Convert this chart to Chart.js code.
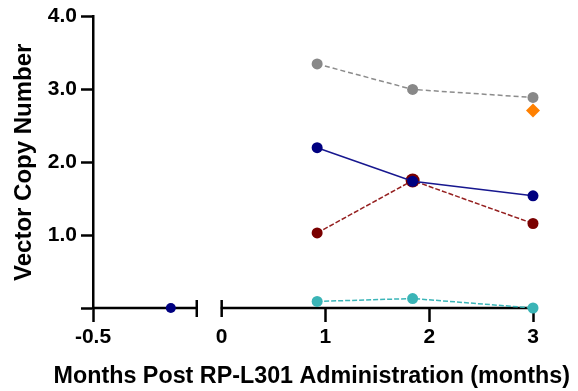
<!DOCTYPE html>
<html>
<head>
<meta charset="utf-8">
<script src="https://cdn.jsdelivr.net/npm/chart.js@4"></script>
<style>
  html, body { margin: 0; padding: 0; background: #fff; }
</style>
</head>
<body>
<canvas id="vcn_chart" width="578" height="391"></canvas>
<script>
// months after dosing
const months = [0.92, 1.84, 3];
const baselineMonth = [-0.125];

const greySeries = [3.35, 3.0, 2.89];
const navySeries = [2.2, 1.74, 1.54];
const redSeries = [1.03, 1.75, 1.16];
const cyanSeries = [0.09, 0.13, 0.0];
const navyBaseline = [0.0];
const orangeMonth = [3];
const orangeSeries = [2.71];

const xTickValues = [-0.5, 0, 1, 2, 3];
const xTickLabels = ["-0.5", "0", "1", "2", "3"];
const yTickLabels = ["", "1.0", "2.0", "3.0", "4.0"];

// broken x axis: the pre-dose part (-0.5..0) is stretched and moved left of a gap
const GAP = 0.24;
const LEFT_STRETCH = 2;
const toAxis = (m, left) => (left ? m * LEFT_STRETCH - GAP : m);

const pts = (xs, ys, left) => xs.map((m, i) => ({ x: toAxis(m, left), y: ys[i] }));

const FONT = "'Liberation Sans', Arial, Helvetica, sans-serif";
const TITLE_SIZE = 23.3;

const brokenAxis = {
    id: "brokenAxis",
    beforeDatasetsDraw(chart) {
        const { ctx, scales } = chart;
        const x = scales.x;
        const y0 = scales.y.getPixelForValue(0);
        const segs = [
            [toAxis(-0.5, true), toAxis(0, true)],
            [0, 3],
        ];
        ctx.save();
        ctx.strokeStyle = "#000";
        ctx.lineWidth = 2.5;
        segs.forEach(([a, b]) => {
            ctx.beginPath();
            ctx.moveTo(x.getPixelForValue(a) - 1, y0);
            ctx.lineTo(x.getPixelForValue(b) + 1, y0);
            ctx.stroke();
        });
        [toAxis(0, true), 0].forEach((v) => {
            const px = x.getPixelForValue(v);
            ctx.beginPath();
            ctx.moveTo(px, y0 - 8);
            ctx.lineTo(px, y0 + 9);
            ctx.stroke();
        });
        ctx.restore();
    },
};

const ctx = document.querySelector("#vcn_chart");
new Chart(ctx, {
    type: "scatter",
    data: {
        datasets: [
            {
                data: pts(months, navySeries),
                showLine: true,
                borderColor: "#17178f",
                backgroundColor: "#000080",
                borderWidth: 1.5,
                pointRadius: 5.5,
                pointBorderWidth: 0,
            },
            {
                data: pts(baselineMonth, navyBaseline, true),
                backgroundColor: "#000080",
                borderColor: "#000080",
                pointRadius: 5,
                pointBorderWidth: 0,
            },
            {
                data: pts(months, redSeries),
                showLine: true,
                borderColor: "#952020",
                backgroundColor: "#7a0000",
                borderWidth: 1.5,
                borderDash: [5, 2],
                pointRadius: [5.5, 7, 5.5],
                pointBorderWidth: 0,
            },
            {
                data: pts(orangeMonth, orangeSeries),
                backgroundColor: "#ff8000",
                borderColor: "#ff8000",
                pointStyle: "rectRot",
                pointRadius: 7,
                pointBorderWidth: 0,
            },
            {
                data: pts(months, greySeries),
                showLine: true,
                borderColor: "#8c8c8c",
                backgroundColor: "#888888",
                borderWidth: 1.5,
                borderDash: [5, 3],
                pointRadius: 5.5,
                pointBorderWidth: 0,
            },
            {
                data: pts(months, cyanSeries),
                showLine: true,
                borderColor: "#3bb5b8",
                backgroundColor: "#3ab4b6",
                borderWidth: 1.5,
                borderDash: [5, 2],
                pointRadius: 5.5,
                pointBorderWidth: 0,
            },
        ],
    },
    options: {
        responsive: false,
        animation: false,
        devicePixelRatio: 1,
        clip: false,
        layout: { padding: { top: 15, right: 8, left: 0, bottom: 0 } },
        plugins: {
            legend: { display: false },
            tooltip: { enabled: false },
            title: {
                display: true,
                position: "bottom",
                align: "end",
                text: "Months Post RP-L301 Administration (months)",
                color: "#000",
                padding: { top: 2, bottom: 0 },
                font: { family: FONT, size: TITLE_SIZE, weight: "bold", lineHeight: 1.2 },
            },
        },
        scales: {
            x: {
                type: "linear",
                min: toAxis(-0.5, true),
                max: 3,
                afterFit: (s) => { s.height = 391 - 308 - (TITLE_SIZE * 1.2 + 2); },
                afterBuildTicks: (s) => {
                    s.ticks = xTickValues.map((m) => ({ value: toAxis(m, m < 0) }));
                },
                border: { display: false },
                grid: {
                    drawOnChartArea: false,
                    tickLength: 14,
                    tickWidth: 2.5,
                    tickColor: (c) => (c.tick && c.tick.value === 0 ? "rgba(0,0,0,0)" : "#000"),
                },
                ticks: {
                    color: "#000",
                    padding: 3,
                    maxRotation: 0,
                    font: { family: FONT, size: 21, weight: "bold" },
                    callback: (v, i) => xTickLabels[i],
                },
            },
            y: {
                min: 0,
                max: 4,
                afterFit: (s) => { s.width = 93; },
                border: { display: true, color: "#000", width: 2.5 },
                grid: {
                    drawOnChartArea: false,
                    tickLength: 12,
                    tickWidth: 2.5,
                    tickColor: "#000",
                },
                ticks: {
                    stepSize: 1,
                    color: "#000",
                    padding: 4,
                    font: { family: FONT, size: 21, weight: "bold" },
                    callback: (v) => yTickLabels[Math.round(v)],
                },
                title: {
                    display: true,
                    text: "Vector Copy Number",
                    color: "#000",
                    padding: { top: 10, bottom: 4 },
                    font: { family: FONT, size: 24, weight: "bold" },
                },
            },
            // empty right-hand box that keeps the plot area narrower than the title
            spacer: {
                type: "linear",
                position: "right",
                afterFit: (s) => { s.width = 37; },
                border: { display: false },
                grid: { display: false },
                ticks: { display: false },
            },
        },
    },
    plugins: [brokenAxis],
});
</script>
</body>
</html>
